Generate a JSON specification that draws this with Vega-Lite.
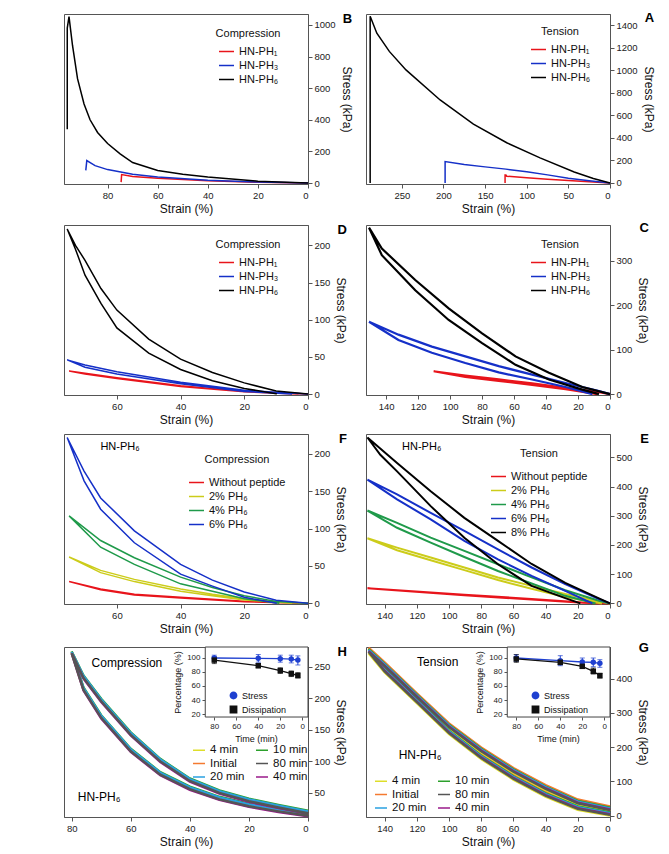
{
  "$schema": "https://vega.github.io/schema/vega-lite/v6.json",
  "padding": {"left": 63, "top": 11, "right": 5, "bottom": 5},
  "config": {
    "font": "Liberation Sans",
    "view": {"stroke": "#555", "strokeWidth": 1},
    "axis": {"grid": false, "domainColor": "#555", "tickColor": "#555", "labelColor": "#222", "labelFontSize": 9.5, "labelOverlap": false, "titleFontSize": 12, "titleFontWeight": "normal", "titleColor": "#111", "tickSize": 4},
    "legend": {"labelFontSize": 11, "titleFontSize": 11, "titleFontWeight": "normal", "titleColor": "#111", "labelColor": "#111", "symbolType": "stroke", "symbolStrokeWidth": 1.5, "symbolSize": 225, "rowPadding": 0, "padding": 0, "titlePadding": 4, "titleAnchor": "middle", "labelOffset": 4, "symbolOpacity": 1},
    "title": {"anchor": "end", "frame": "bounds", "offset": -12, "fontSize": 13, "fontWeight": "bold"}
  },
  "columns": 2,
  "spacing": {"row": 6, "column": 9},
  "resolve": {"scale": {"color": "independent", "shape": "independent", "x": "independent", "y": "independent"}, "legend": {"color": "independent", "shape": "independent"}},
  "datasets": {
    "A": [
      {"series": "HN-PH₁", "i": 0, "strain": 0, "stress": 0},
      {"series": "HN-PH₁", "i": 1, "strain": 25, "stress": 10},
      {"series": "HN-PH₁", "i": 2, "strain": 50, "stress": 22},
      {"series": "HN-PH₁", "i": 3, "strain": 75, "stress": 34},
      {"series": "HN-PH₁", "i": 4, "strain": 100, "stress": 47},
      {"series": "HN-PH₁", "i": 5, "strain": 124, "stress": 60},
      {"series": "HN-PH₁", "i": 6, "strain": 125, "stress": 71},
      {"series": "HN-PH₁", "i": 7, "strain": 126, "stress": 71},
      {"series": "HN-PH₁", "i": 8, "strain": 126, "stress": 0},
      {"series": "HN-PH₃", "i": 0, "strain": 0, "stress": 0},
      {"series": "HN-PH₃", "i": 1, "strain": 25, "stress": 20},
      {"series": "HN-PH₃", "i": 2, "strain": 50, "stress": 42},
      {"series": "HN-PH₃", "i": 3, "strain": 75, "stress": 72},
      {"series": "HN-PH₃", "i": 4, "strain": 100, "stress": 100},
      {"series": "HN-PH₃", "i": 5, "strain": 125, "stress": 123},
      {"series": "HN-PH₃", "i": 6, "strain": 150, "stress": 143},
      {"series": "HN-PH₃", "i": 7, "strain": 175, "stress": 165},
      {"series": "HN-PH₃", "i": 8, "strain": 198, "stress": 190},
      {"series": "HN-PH₃", "i": 9, "strain": 198, "stress": 0},
      {"series": "HN-PH₆", "i": 0, "strain": 0, "stress": 0},
      {"series": "HN-PH₆", "i": 1, "strain": 20, "stress": 40},
      {"series": "HN-PH₆", "i": 2, "strain": 43, "stress": 98},
      {"series": "HN-PH₆", "i": 3, "strain": 84, "stress": 223},
      {"series": "HN-PH₆", "i": 4, "strain": 124, "stress": 357},
      {"series": "HN-PH₆", "i": 5, "strain": 164, "stress": 523},
      {"series": "HN-PH₆", "i": 6, "strain": 204, "stress": 737},
      {"series": "HN-PH₆", "i": 7, "strain": 245, "stress": 1004},
      {"series": "HN-PH₆", "i": 8, "strain": 265, "stress": 1168},
      {"series": "HN-PH₆", "i": 9, "strain": 280, "stress": 1330},
      {"series": "HN-PH₆", "i": 10, "strain": 288, "stress": 1480},
      {"series": "HN-PH₆", "i": 11, "strain": 288, "stress": 0}
    ],
    "B": [
      {"series": "HN-PH₁", "i": 0, "strain": 0, "stress": 0},
      {"series": "HN-PH₁", "i": 1, "strain": 20, "stress": 5},
      {"series": "HN-PH₁", "i": 2, "strain": 40, "stress": 14},
      {"series": "HN-PH₁", "i": 3, "strain": 60, "stress": 30},
      {"series": "HN-PH₁", "i": 4, "strain": 70, "stress": 42},
      {"series": "HN-PH₁", "i": 5, "strain": 74.4, "stress": 54},
      {"series": "HN-PH₁", "i": 6, "strain": 74.6, "stress": 6},
      {"series": "HN-PH₃", "i": 0, "strain": 0, "stress": 0},
      {"series": "HN-PH₃", "i": 1, "strain": 20, "stress": 6},
      {"series": "HN-PH₃", "i": 2, "strain": 40, "stress": 17},
      {"series": "HN-PH₃", "i": 3, "strain": 60, "stress": 38},
      {"series": "HN-PH₃", "i": 4, "strain": 70, "stress": 55},
      {"series": "HN-PH₃", "i": 5, "strain": 80, "stress": 85},
      {"series": "HN-PH₃", "i": 6, "strain": 85, "stress": 110},
      {"series": "HN-PH₃", "i": 7, "strain": 88.3, "stress": 142},
      {"series": "HN-PH₃", "i": 8, "strain": 88.7, "stress": 80},
      {"series": "HN-PH₆", "i": 0, "strain": 0, "stress": 0},
      {"series": "HN-PH₆", "i": 1, "strain": 20, "stress": 12},
      {"series": "HN-PH₆", "i": 2, "strain": 40, "stress": 38},
      {"series": "HN-PH₆", "i": 3, "strain": 50, "stress": 55},
      {"series": "HN-PH₆", "i": 4, "strain": 60, "stress": 80},
      {"series": "HN-PH₆", "i": 5, "strain": 70, "stress": 130},
      {"series": "HN-PH₆", "i": 6, "strain": 75, "stress": 185},
      {"series": "HN-PH₆", "i": 7, "strain": 80, "stress": 250},
      {"series": "HN-PH₆", "i": 8, "strain": 84, "stress": 320},
      {"series": "HN-PH₆", "i": 9, "strain": 87, "stress": 400},
      {"series": "HN-PH₆", "i": 10, "strain": 89.4, "stress": 500},
      {"series": "HN-PH₆", "i": 11, "strain": 92, "stress": 660},
      {"series": "HN-PH₆", "i": 12, "strain": 94, "stress": 870},
      {"series": "HN-PH₆", "i": 13, "strain": 95.4, "stress": 1052},
      {"series": "HN-PH₆", "i": 14, "strain": 96.1, "stress": 980},
      {"series": "HN-PH₆", "i": 15, "strain": 96.1, "stress": 341}
    ],
    "C": [
      {"series": "HN-PH₁", "i": 0, "strain": 0, "stress": 0},
      {"series": "HN-PH₁", "i": 1, "strain": 6.9, "stress": 4.5},
      {"series": "HN-PH₁", "i": 2, "strain": 27.8, "stress": 14},
      {"series": "HN-PH₁", "i": 3, "strain": 48.7, "stress": 24},
      {"series": "HN-PH₁", "i": 4, "strain": 69.6, "stress": 33},
      {"series": "HN-PH₁", "i": 5, "strain": 90.5, "stress": 42},
      {"series": "HN-PH₁", "i": 6, "strain": 110.3, "stress": 51.5},
      {"series": "HN-PH₁", "i": 7, "strain": 90.5, "stress": 39},
      {"series": "HN-PH₁", "i": 8, "strain": 69.6, "stress": 30},
      {"series": "HN-PH₁", "i": 9, "strain": 48.7, "stress": 21},
      {"series": "HN-PH₁", "i": 10, "strain": 27.8, "stress": 11},
      {"series": "HN-PH₁", "i": 11, "strain": 8, "stress": 0},
      {"series": "HN-PH₃", "i": 0, "strain": 0, "stress": 0},
      {"series": "HN-PH₃", "i": 1, "strain": 6.9, "stress": 7},
      {"series": "HN-PH₃", "i": 2, "strain": 27.8, "stress": 25},
      {"series": "HN-PH₃", "i": 3, "strain": 48.7, "stress": 44},
      {"series": "HN-PH₃", "i": 4, "strain": 69.6, "stress": 63},
      {"series": "HN-PH₃", "i": 5, "strain": 90.5, "stress": 85},
      {"series": "HN-PH₃", "i": 6, "strain": 111.4, "stress": 107},
      {"series": "HN-PH₃", "i": 7, "strain": 132.3, "stress": 134},
      {"series": "HN-PH₃", "i": 8, "strain": 150.7, "stress": 163},
      {"series": "HN-PH₃", "i": 9, "strain": 132.3, "stress": 122},
      {"series": "HN-PH₃", "i": 10, "strain": 111.4, "stress": 93},
      {"series": "HN-PH₃", "i": 11, "strain": 90.5, "stress": 70},
      {"series": "HN-PH₃", "i": 12, "strain": 69.6, "stress": 49},
      {"series": "HN-PH₃", "i": 13, "strain": 48.7, "stress": 33},
      {"series": "HN-PH₃", "i": 14, "strain": 27.8, "stress": 16},
      {"series": "HN-PH₃", "i": 15, "strain": 11, "stress": 0},
      {"series": "HN-PH₆", "i": 0, "strain": 0, "stress": 0},
      {"series": "HN-PH₆", "i": 1, "strain": 17.3, "stress": 16},
      {"series": "HN-PH₆", "i": 2, "strain": 38.2, "stress": 48},
      {"series": "HN-PH₆", "i": 3, "strain": 59.1, "stress": 85},
      {"series": "HN-PH₆", "i": 4, "strain": 80, "stress": 137},
      {"series": "HN-PH₆", "i": 5, "strain": 100.9, "stress": 193},
      {"series": "HN-PH₆", "i": 6, "strain": 121.8, "stress": 257},
      {"series": "HN-PH₆", "i": 7, "strain": 142.7, "stress": 328},
      {"series": "HN-PH₆", "i": 8, "strain": 150.7, "stress": 375},
      {"series": "HN-PH₆", "i": 9, "strain": 142.7, "stress": 313},
      {"series": "HN-PH₆", "i": 10, "strain": 121.8, "stress": 234},
      {"series": "HN-PH₆", "i": 11, "strain": 100.9, "stress": 167},
      {"series": "HN-PH₆", "i": 12, "strain": 80, "stress": 115},
      {"series": "HN-PH₆", "i": 13, "strain": 59.1, "stress": 66},
      {"series": "HN-PH₆", "i": 14, "strain": 38.2, "stress": 33},
      {"series": "HN-PH₆", "i": 15, "strain": 17.3, "stress": 10},
      {"series": "HN-PH₆", "i": 16, "strain": 6.9, "stress": 0}
    ],
    "D": [
      {"series": "HN-PH₁", "i": 0, "strain": 0, "stress": 0},
      {"series": "HN-PH₁", "i": 1, "strain": 20, "stress": 3.5},
      {"series": "HN-PH₁", "i": 2, "strain": 40, "stress": 11},
      {"series": "HN-PH₁", "i": 3, "strain": 60, "stress": 22},
      {"series": "HN-PH₁", "i": 4, "strain": 70, "stress": 28},
      {"series": "HN-PH₁", "i": 5, "strain": 75, "stress": 31},
      {"series": "HN-PH₁", "i": 6, "strain": 70, "stress": 27},
      {"series": "HN-PH₁", "i": 7, "strain": 60, "stress": 21},
      {"series": "HN-PH₁", "i": 8, "strain": 40, "stress": 10},
      {"series": "HN-PH₁", "i": 9, "strain": 20, "stress": 3},
      {"series": "HN-PH₁", "i": 10, "strain": 3, "stress": 0},
      {"series": "HN-PH₃", "i": 0, "strain": 0, "stress": 0},
      {"series": "HN-PH₃", "i": 1, "strain": 20, "stress": 5},
      {"series": "HN-PH₃", "i": 2, "strain": 40, "stress": 16},
      {"series": "HN-PH₃", "i": 3, "strain": 60, "stress": 30},
      {"series": "HN-PH₃", "i": 4, "strain": 70, "stress": 39},
      {"series": "HN-PH₃", "i": 5, "strain": 75.6, "stress": 46},
      {"series": "HN-PH₃", "i": 6, "strain": 70, "stress": 36},
      {"series": "HN-PH₃", "i": 7, "strain": 60, "stress": 27},
      {"series": "HN-PH₃", "i": 8, "strain": 40, "stress": 14},
      {"series": "HN-PH₃", "i": 9, "strain": 20, "stress": 3.5},
      {"series": "HN-PH₃", "i": 10, "strain": 5, "stress": 0},
      {"series": "HN-PH₆", "i": 0, "strain": 0, "stress": 0},
      {"series": "HN-PH₆", "i": 1, "strain": 10, "stress": 4},
      {"series": "HN-PH₆", "i": 2, "strain": 20, "stress": 15},
      {"series": "HN-PH₆", "i": 3, "strain": 30, "stress": 29},
      {"series": "HN-PH₆", "i": 4, "strain": 40, "stress": 47},
      {"series": "HN-PH₆", "i": 5, "strain": 50, "stress": 74},
      {"series": "HN-PH₆", "i": 6, "strain": 60, "stress": 113},
      {"series": "HN-PH₆", "i": 7, "strain": 65, "stress": 142},
      {"series": "HN-PH₆", "i": 8, "strain": 70, "stress": 180},
      {"series": "HN-PH₆", "i": 9, "strain": 73, "stress": 200},
      {"series": "HN-PH₆", "i": 10, "strain": 75.6, "stress": 222},
      {"series": "HN-PH₆", "i": 11, "strain": 73, "stress": 195},
      {"series": "HN-PH₆", "i": 12, "strain": 70, "stress": 160},
      {"series": "HN-PH₆", "i": 13, "strain": 65, "stress": 122},
      {"series": "HN-PH₆", "i": 14, "strain": 60, "stress": 89},
      {"series": "HN-PH₆", "i": 15, "strain": 50, "stress": 55},
      {"series": "HN-PH₆", "i": 16, "strain": 40, "stress": 33},
      {"series": "HN-PH₆", "i": 17, "strain": 30, "stress": 18},
      {"series": "HN-PH₆", "i": 18, "strain": 20, "stress": 7.5},
      {"series": "HN-PH₆", "i": 19, "strain": 10, "stress": 0.5},
      {"series": "HN-PH₆", "i": 20, "strain": 9.8, "stress": 0}
    ],
    "E": [
      {"series": "Without peptide", "i": 0, "strain": 0, "stress": 0},
      {"series": "Without peptide", "i": 1, "strain": 17, "stress": 3},
      {"series": "Without peptide", "i": 2, "strain": 48.7, "stress": 15},
      {"series": "Without peptide", "i": 3, "strain": 90.5, "stress": 30},
      {"series": "Without peptide", "i": 4, "strain": 150.7, "stress": 52},
      {"series": "Without peptide", "i": 5, "strain": 90.5, "stress": 28},
      {"series": "Without peptide", "i": 6, "strain": 48.7, "stress": 13},
      {"series": "Without peptide", "i": 7, "strain": 17, "stress": 2},
      {"series": "Without peptide", "i": 8, "strain": 5, "stress": 0},
      {"series": "2% PH₆", "i": 0, "strain": 0, "stress": 0},
      {"series": "2% PH₆", "i": 1, "strain": 6.9, "stress": 7},
      {"series": "2% PH₆", "i": 2, "strain": 27.8, "stress": 32},
      {"series": "2% PH₆", "i": 3, "strain": 48.7, "stress": 60},
      {"series": "2% PH₆", "i": 4, "strain": 69.6, "stress": 89},
      {"series": "2% PH₆", "i": 5, "strain": 90.5, "stress": 123},
      {"series": "2% PH₆", "i": 6, "strain": 111.4, "stress": 157},
      {"series": "2% PH₆", "i": 7, "strain": 132.3, "stress": 191},
      {"series": "2% PH₆", "i": 8, "strain": 150.7, "stress": 223},
      {"series": "2% PH₆", "i": 9, "strain": 132.3, "stress": 182},
      {"series": "2% PH₆", "i": 10, "strain": 111.4, "stress": 148},
      {"series": "2% PH₆", "i": 11, "strain": 90.5, "stress": 114},
      {"series": "2% PH₆", "i": 12, "strain": 69.6, "stress": 80},
      {"series": "2% PH₆", "i": 13, "strain": 48.7, "stress": 50},
      {"series": "2% PH₆", "i": 14, "strain": 27.8, "stress": 22},
      {"series": "2% PH₆", "i": 15, "strain": 5, "stress": 0},
      {"series": "4% PH₆", "i": 0, "strain": 0, "stress": 0},
      {"series": "4% PH₆", "i": 1, "strain": 6.9, "stress": 9},
      {"series": "4% PH₆", "i": 2, "strain": 27.8, "stress": 45},
      {"series": "4% PH₆", "i": 3, "strain": 48.7, "stress": 89},
      {"series": "4% PH₆", "i": 4, "strain": 69.6, "stress": 134},
      {"series": "4% PH₆", "i": 5, "strain": 90.5, "stress": 180},
      {"series": "4% PH₆", "i": 6, "strain": 111.4, "stress": 225},
      {"series": "4% PH₆", "i": 7, "strain": 132.3, "stress": 276},
      {"series": "4% PH₆", "i": 8, "strain": 150.7, "stress": 318},
      {"series": "4% PH₆", "i": 9, "strain": 132.3, "stress": 259},
      {"series": "4% PH₆", "i": 10, "strain": 111.4, "stress": 208},
      {"series": "4% PH₆", "i": 11, "strain": 90.5, "stress": 159},
      {"series": "4% PH₆", "i": 12, "strain": 69.6, "stress": 111},
      {"series": "4% PH₆", "i": 13, "strain": 48.7, "stress": 68},
      {"series": "4% PH₆", "i": 14, "strain": 27.8, "stress": 26},
      {"series": "4% PH₆", "i": 15, "strain": 9, "stress": 0},
      {"series": "6% PH₆", "i": 0, "strain": 0, "stress": 0},
      {"series": "6% PH₆", "i": 1, "strain": 6.9, "stress": 15},
      {"series": "6% PH₆", "i": 2, "strain": 27.8, "stress": 66},
      {"series": "6% PH₆", "i": 3, "strain": 48.7, "stress": 123},
      {"series": "6% PH₆", "i": 4, "strain": 69.6, "stress": 185},
      {"series": "6% PH₆", "i": 5, "strain": 90.5, "stress": 248},
      {"series": "6% PH₆", "i": 6, "strain": 111.4, "stress": 310},
      {"series": "6% PH₆", "i": 7, "strain": 132.3, "stress": 373},
      {"series": "6% PH₆", "i": 8, "strain": 150.7, "stress": 424},
      {"series": "6% PH₆", "i": 9, "strain": 132.3, "stress": 356},
      {"series": "6% PH₆", "i": 10, "strain": 111.4, "stress": 288},
      {"series": "6% PH₆", "i": 11, "strain": 90.5, "stress": 214},
      {"series": "6% PH₆", "i": 12, "strain": 69.6, "stress": 151},
      {"series": "6% PH₆", "i": 13, "strain": 48.7, "stress": 94},
      {"series": "6% PH₆", "i": 14, "strain": 27.8, "stress": 43},
      {"series": "6% PH₆", "i": 15, "strain": 11, "stress": 0},
      {"series": "8% PH₆", "i": 0, "strain": 0, "stress": 0},
      {"series": "8% PH₆", "i": 1, "strain": 6.9, "stress": 17},
      {"series": "8% PH₆", "i": 2, "strain": 27.8, "stress": 70},
      {"series": "8% PH₆", "i": 3, "strain": 48.7, "stress": 135},
      {"series": "8% PH₆", "i": 4, "strain": 69.6, "stress": 214},
      {"series": "8% PH₆", "i": 5, "strain": 90.5, "stress": 293},
      {"series": "8% PH₆", "i": 6, "strain": 111.4, "stress": 384},
      {"series": "8% PH₆", "i": 7, "strain": 132.3, "stress": 481},
      {"series": "8% PH₆", "i": 8, "strain": 150.7, "stress": 568},
      {"series": "8% PH₆", "i": 9, "strain": 142.7, "stress": 509},
      {"series": "8% PH₆", "i": 10, "strain": 132.3, "stress": 452},
      {"series": "8% PH₆", "i": 11, "strain": 111.4, "stress": 333},
      {"series": "8% PH₆", "i": 12, "strain": 90.5, "stress": 225},
      {"series": "8% PH₆", "i": 13, "strain": 69.6, "stress": 134},
      {"series": "8% PH₆", "i": 14, "strain": 48.7, "stress": 60},
      {"series": "8% PH₆", "i": 15, "strain": 27.8, "stress": 18},
      {"series": "8% PH₆", "i": 16, "strain": 18.4, "stress": 0}
    ],
    "F": [
      {"series": "Without peptide", "i": 0, "strain": 0, "stress": 0},
      {"series": "Without peptide", "i": 1, "strain": 20, "stress": 2.7},
      {"series": "Without peptide", "i": 2, "strain": 40, "stress": 8},
      {"series": "Without peptide", "i": 3, "strain": 54.5, "stress": 12},
      {"series": "Without peptide", "i": 4, "strain": 65.1, "stress": 19},
      {"series": "Without peptide", "i": 5, "strain": 75, "stress": 29},
      {"series": "Without peptide", "i": 6, "strain": 65.1, "stress": 18},
      {"series": "Without peptide", "i": 7, "strain": 54.5, "stress": 11},
      {"series": "Without peptide", "i": 8, "strain": 40, "stress": 7},
      {"series": "Without peptide", "i": 9, "strain": 20, "stress": 2},
      {"series": "Without peptide", "i": 10, "strain": 3, "stress": 0},
      {"series": "2% PH₆", "i": 0, "strain": 0, "stress": 0},
      {"series": "2% PH₆", "i": 1, "strain": 10, "stress": 2},
      {"series": "2% PH₆", "i": 2, "strain": 20, "stress": 6},
      {"series": "2% PH₆", "i": 3, "strain": 30, "stress": 12},
      {"series": "2% PH₆", "i": 4, "strain": 40, "stress": 19},
      {"series": "2% PH₆", "i": 5, "strain": 54.5, "stress": 32},
      {"series": "2% PH₆", "i": 6, "strain": 65.1, "stress": 44},
      {"series": "2% PH₆", "i": 7, "strain": 75, "stress": 62},
      {"series": "2% PH₆", "i": 8, "strain": 65.1, "stress": 41},
      {"series": "2% PH₆", "i": 9, "strain": 54.5, "stress": 29},
      {"series": "2% PH₆", "i": 10, "strain": 40, "stress": 16},
      {"series": "2% PH₆", "i": 11, "strain": 30, "stress": 10},
      {"series": "2% PH₆", "i": 12, "strain": 20, "stress": 4.5},
      {"series": "2% PH₆", "i": 13, "strain": 5, "stress": 0},
      {"series": "4% PH₆", "i": 0, "strain": 0, "stress": 0},
      {"series": "4% PH₆", "i": 1, "strain": 10, "stress": 2.5},
      {"series": "4% PH₆", "i": 2, "strain": 20, "stress": 10},
      {"series": "4% PH₆", "i": 3, "strain": 30, "stress": 21},
      {"series": "4% PH₆", "i": 4, "strain": 40, "stress": 35},
      {"series": "4% PH₆", "i": 5, "strain": 54.5, "stress": 61},
      {"series": "4% PH₆", "i": 6, "strain": 65.1, "stress": 84},
      {"series": "4% PH₆", "i": 7, "strain": 75, "stress": 117},
      {"series": "4% PH₆", "i": 8, "strain": 65.1, "stress": 75},
      {"series": "4% PH₆", "i": 9, "strain": 54.5, "stress": 52},
      {"series": "4% PH₆", "i": 10, "strain": 40, "stress": 26},
      {"series": "4% PH₆", "i": 11, "strain": 30, "stress": 16},
      {"series": "4% PH₆", "i": 12, "strain": 20, "stress": 6},
      {"series": "4% PH₆", "i": 13, "strain": 9, "stress": 0},
      {"series": "6% PH₆", "i": 0, "strain": 0, "stress": 0},
      {"series": "6% PH₆", "i": 1, "strain": 10, "stress": 4},
      {"series": "6% PH₆", "i": 2, "strain": 20, "stress": 15},
      {"series": "6% PH₆", "i": 3, "strain": 30, "stress": 31},
      {"series": "6% PH₆", "i": 4, "strain": 40, "stress": 52},
      {"series": "6% PH₆", "i": 5, "strain": 54.5, "stress": 97},
      {"series": "6% PH₆", "i": 6, "strain": 65.1, "stress": 141},
      {"series": "6% PH₆", "i": 7, "strain": 70.3, "stress": 177},
      {"series": "6% PH₆", "i": 8, "strain": 75.6, "stress": 222},
      {"series": "6% PH₆", "i": 9, "strain": 70.3, "stress": 164},
      {"series": "6% PH₆", "i": 10, "strain": 65.1, "stress": 126},
      {"series": "6% PH₆", "i": 11, "strain": 54.5, "stress": 81},
      {"series": "6% PH₆", "i": 12, "strain": 40, "stress": 39},
      {"series": "6% PH₆", "i": 13, "strain": 30, "stress": 23},
      {"series": "6% PH₆", "i": 14, "strain": 20, "stress": 8},
      {"series": "6% PH₆", "i": 15, "strain": 9.8, "stress": 0}
    ],
    "G": [
      {"series": "Initial", "i": 0, "strain": 0, "stress": 27}, {"series": "Initial", "i": 1, "strain": 20, "stress": 47}, {"series": "Initial", "i": 2, "strain": 40, "stress": 89}, {"series": "Initial", "i": 3, "strain": 60, "stress": 139}, {"series": "Initial", "i": 4, "strain": 80, "stress": 199}, {"series": "Initial", "i": 5, "strain": 100, "stress": 269}, {"series": "Initial", "i": 6, "strain": 120, "stress": 357}, {"series": "Initial", "i": 7, "strain": 140, "stress": 447}, {"series": "Initial", "i": 8, "strain": 150, "stress": 490},
      {"series": "Initial", "i": 9, "strain": 140, "stress": 432}, {"series": "Initial", "i": 10, "strain": 120, "stress": 342}, {"series": "Initial", "i": 11, "strain": 100, "stress": 252}, {"series": "Initial", "i": 12, "strain": 80, "stress": 179}, {"series": "Initial", "i": 13, "strain": 60, "stress": 119}, {"series": "Initial", "i": 14, "strain": 40, "stress": 69}, {"series": "Initial", "i": 15, "strain": 20, "stress": 31}, {"series": "Initial", "i": 16, "strain": 0, "stress": 13},
      {"series": "4 min", "i": 0, "strain": 0, "stress": 13}, {"series": "4 min", "i": 1, "strain": 20, "stress": 33}, {"series": "4 min", "i": 2, "strain": 40, "stress": 75}, {"series": "4 min", "i": 3, "strain": 60, "stress": 125}, {"series": "4 min", "i": 4, "strain": 80, "stress": 185}, {"series": "4 min", "i": 5, "strain": 100, "stress": 255}, {"series": "4 min", "i": 6, "strain": 120, "stress": 343}, {"series": "4 min", "i": 7, "strain": 140, "stress": 433}, {"series": "4 min", "i": 8, "strain": 150, "stress": 474},
      {"series": "4 min", "i": 9, "strain": 140, "stress": 418}, {"series": "4 min", "i": 10, "strain": 120, "stress": 328}, {"series": "4 min", "i": 11, "strain": 100, "stress": 238}, {"series": "4 min", "i": 12, "strain": 80, "stress": 165}, {"series": "4 min", "i": 13, "strain": 60, "stress": 105}, {"series": "4 min", "i": 14, "strain": 40, "stress": 55}, {"series": "4 min", "i": 15, "strain": 20, "stress": 17}, {"series": "4 min", "i": 16, "strain": 0, "stress": 0},
      {"series": "10 min", "i": 0, "strain": 0, "stress": 23}, {"series": "10 min", "i": 1, "strain": 20, "stress": 43}, {"series": "10 min", "i": 2, "strain": 40, "stress": 85}, {"series": "10 min", "i": 3, "strain": 60, "stress": 135}, {"series": "10 min", "i": 4, "strain": 80, "stress": 195}, {"series": "10 min", "i": 5, "strain": 100, "stress": 265}, {"series": "10 min", "i": 6, "strain": 120, "stress": 353}, {"series": "10 min", "i": 7, "strain": 140, "stress": 443}, {"series": "10 min", "i": 8, "strain": 150, "stress": 486},
      {"series": "10 min", "i": 9, "strain": 140, "stress": 428}, {"series": "10 min", "i": 10, "strain": 120, "stress": 338}, {"series": "10 min", "i": 11, "strain": 100, "stress": 248}, {"series": "10 min", "i": 12, "strain": 80, "stress": 175}, {"series": "10 min", "i": 13, "strain": 60, "stress": 115}, {"series": "10 min", "i": 14, "strain": 40, "stress": 65}, {"series": "10 min", "i": 15, "strain": 20, "stress": 27}, {"series": "10 min", "i": 16, "strain": 0, "stress": 9},
      {"series": "20 min", "i": 0, "strain": 0, "stress": 21}, {"series": "20 min", "i": 1, "strain": 20, "stress": 41}, {"series": "20 min", "i": 2, "strain": 40, "stress": 83}, {"series": "20 min", "i": 3, "strain": 60, "stress": 133}, {"series": "20 min", "i": 4, "strain": 80, "stress": 193}, {"series": "20 min", "i": 5, "strain": 100, "stress": 263}, {"series": "20 min", "i": 6, "strain": 120, "stress": 351}, {"series": "20 min", "i": 7, "strain": 140, "stress": 441}, {"series": "20 min", "i": 8, "strain": 150, "stress": 483},
      {"series": "20 min", "i": 9, "strain": 140, "stress": 426}, {"series": "20 min", "i": 10, "strain": 120, "stress": 336}, {"series": "20 min", "i": 11, "strain": 100, "stress": 246}, {"series": "20 min", "i": 12, "strain": 80, "stress": 173}, {"series": "20 min", "i": 13, "strain": 60, "stress": 113}, {"series": "20 min", "i": 14, "strain": 40, "stress": 63}, {"series": "20 min", "i": 15, "strain": 20, "stress": 25}, {"series": "20 min", "i": 16, "strain": 0, "stress": 7},
      {"series": "40 min", "i": 0, "strain": 0, "stress": 18}, {"series": "40 min", "i": 1, "strain": 20, "stress": 38}, {"series": "40 min", "i": 2, "strain": 40, "stress": 80}, {"series": "40 min", "i": 3, "strain": 60, "stress": 130}, {"series": "40 min", "i": 4, "strain": 80, "stress": 190}, {"series": "40 min", "i": 5, "strain": 100, "stress": 260}, {"series": "40 min", "i": 6, "strain": 120, "stress": 348}, {"series": "40 min", "i": 7, "strain": 140, "stress": 438}, {"series": "40 min", "i": 8, "strain": 150, "stress": 480},
      {"series": "40 min", "i": 9, "strain": 140, "stress": 423}, {"series": "40 min", "i": 10, "strain": 120, "stress": 333}, {"series": "40 min", "i": 11, "strain": 100, "stress": 243}, {"series": "40 min", "i": 12, "strain": 80, "stress": 170}, {"series": "40 min", "i": 13, "strain": 60, "stress": 110}, {"series": "40 min", "i": 14, "strain": 40, "stress": 60}, {"series": "40 min", "i": 15, "strain": 20, "stress": 22}, {"series": "40 min", "i": 16, "strain": 0, "stress": 4},
      {"series": "80 min", "i": 0, "strain": 0, "stress": 16}, {"series": "80 min", "i": 1, "strain": 20, "stress": 36}, {"series": "80 min", "i": 2, "strain": 40, "stress": 78}, {"series": "80 min", "i": 3, "strain": 60, "stress": 128}, {"series": "80 min", "i": 4, "strain": 80, "stress": 188}, {"series": "80 min", "i": 5, "strain": 100, "stress": 258}, {"series": "80 min", "i": 6, "strain": 120, "stress": 346}, {"series": "80 min", "i": 7, "strain": 140, "stress": 436}, {"series": "80 min", "i": 8, "strain": 150, "stress": 478},
      {"series": "80 min", "i": 9, "strain": 140, "stress": 421}, {"series": "80 min", "i": 10, "strain": 120, "stress": 331}, {"series": "80 min", "i": 11, "strain": 100, "stress": 241}, {"series": "80 min", "i": 12, "strain": 80, "stress": 168}, {"series": "80 min", "i": 13, "strain": 60, "stress": 108}, {"series": "80 min", "i": 14, "strain": 40, "stress": 58}, {"series": "80 min", "i": 15, "strain": 20, "stress": 20}, {"series": "80 min", "i": 16, "strain": 0, "stress": 2}
    ],
    "H": [
      {"series": "Initial", "i": 0, "strain": 0, "stress": 20}, {"series": "Initial", "i": 1, "strain": 10, "stress": 29}, {"series": "Initial", "i": 2, "strain": 20, "stress": 39}, {"series": "Initial", "i": 3, "strain": 30, "stress": 52}, {"series": "Initial", "i": 4, "strain": 40, "stress": 71}, {"series": "Initial", "i": 5, "strain": 50, "stress": 102}, {"series": "Initial", "i": 6, "strain": 60, "stress": 144}, {"series": "Initial", "i": 7, "strain": 70, "stress": 197}, {"series": "Initial", "i": 8, "strain": 76, "stress": 234}, {"series": "Initial", "i": 9, "strain": 80, "stress": 273},
      {"series": "Initial", "i": 10, "strain": 76, "stress": 215}, {"series": "Initial", "i": 11, "strain": 70, "stress": 171}, {"series": "Initial", "i": 12, "strain": 60, "stress": 118}, {"series": "Initial", "i": 13, "strain": 50, "stress": 81}, {"series": "Initial", "i": 14, "strain": 40, "stress": 58}, {"series": "Initial", "i": 15, "strain": 30, "stress": 42}, {"series": "Initial", "i": 16, "strain": 20, "stress": 31}, {"series": "Initial", "i": 17, "strain": 10, "stress": 23}, {"series": "Initial", "i": 18, "strain": 0, "stress": 16},
      {"series": "4 min", "i": 0, "strain": 0, "stress": 19}, {"series": "4 min", "i": 1, "strain": 10, "stress": 28}, {"series": "4 min", "i": 2, "strain": 20, "stress": 38}, {"series": "4 min", "i": 3, "strain": 30, "stress": 51}, {"series": "4 min", "i": 4, "strain": 40, "stress": 70}, {"series": "4 min", "i": 5, "strain": 50, "stress": 101}, {"series": "4 min", "i": 6, "strain": 60, "stress": 143}, {"series": "4 min", "i": 7, "strain": 70, "stress": 196}, {"series": "4 min", "i": 8, "strain": 76, "stress": 233}, {"series": "4 min", "i": 9, "strain": 80, "stress": 272},
      {"series": "4 min", "i": 10, "strain": 76, "stress": 214}, {"series": "4 min", "i": 11, "strain": 70, "stress": 170}, {"series": "4 min", "i": 12, "strain": 60, "stress": 117}, {"series": "4 min", "i": 13, "strain": 50, "stress": 80}, {"series": "4 min", "i": 14, "strain": 40, "stress": 57}, {"series": "4 min", "i": 15, "strain": 30, "stress": 41}, {"series": "4 min", "i": 16, "strain": 20, "stress": 30}, {"series": "4 min", "i": 17, "strain": 10, "stress": 22}, {"series": "4 min", "i": 18, "strain": 0, "stress": 15},
      {"series": "10 min", "i": 0, "strain": 0, "stress": 22}, {"series": "10 min", "i": 1, "strain": 10, "stress": 31}, {"series": "10 min", "i": 2, "strain": 20, "stress": 41}, {"series": "10 min", "i": 3, "strain": 30, "stress": 54}, {"series": "10 min", "i": 4, "strain": 40, "stress": 73}, {"series": "10 min", "i": 5, "strain": 50, "stress": 104}, {"series": "10 min", "i": 6, "strain": 60, "stress": 146}, {"series": "10 min", "i": 7, "strain": 70, "stress": 199}, {"series": "10 min", "i": 8, "strain": 76, "stress": 236}, {"series": "10 min", "i": 9, "strain": 80, "stress": 274},
      {"series": "10 min", "i": 10, "strain": 76, "stress": 217}, {"series": "10 min", "i": 11, "strain": 70, "stress": 173}, {"series": "10 min", "i": 12, "strain": 60, "stress": 120}, {"series": "10 min", "i": 13, "strain": 50, "stress": 83}, {"series": "10 min", "i": 14, "strain": 40, "stress": 60}, {"series": "10 min", "i": 15, "strain": 30, "stress": 44}, {"series": "10 min", "i": 16, "strain": 20, "stress": 33}, {"series": "10 min", "i": 17, "strain": 10, "stress": 25}, {"series": "10 min", "i": 18, "strain": 0, "stress": 18},
      {"series": "20 min", "i": 0, "strain": 0, "stress": 21}, {"series": "20 min", "i": 1, "strain": 10, "stress": 30}, {"series": "20 min", "i": 2, "strain": 20, "stress": 40}, {"series": "20 min", "i": 3, "strain": 30, "stress": 53}, {"series": "20 min", "i": 4, "strain": 40, "stress": 72}, {"series": "20 min", "i": 5, "strain": 50, "stress": 103}, {"series": "20 min", "i": 6, "strain": 60, "stress": 145}, {"series": "20 min", "i": 7, "strain": 70, "stress": 198}, {"series": "20 min", "i": 8, "strain": 76, "stress": 235}, {"series": "20 min", "i": 9, "strain": 80, "stress": 273},
      {"series": "20 min", "i": 10, "strain": 76, "stress": 216}, {"series": "20 min", "i": 11, "strain": 70, "stress": 172}, {"series": "20 min", "i": 12, "strain": 60, "stress": 119}, {"series": "20 min", "i": 13, "strain": 50, "stress": 82}, {"series": "20 min", "i": 14, "strain": 40, "stress": 59}, {"series": "20 min", "i": 15, "strain": 30, "stress": 43}, {"series": "20 min", "i": 16, "strain": 20, "stress": 32}, {"series": "20 min", "i": 17, "strain": 10, "stress": 24}, {"series": "20 min", "i": 18, "strain": 0, "stress": 17},
      {"series": "40 min", "i": 0, "strain": 0, "stress": 17}, {"series": "40 min", "i": 1, "strain": 10, "stress": 26}, {"series": "40 min", "i": 2, "strain": 20, "stress": 36}, {"series": "40 min", "i": 3, "strain": 30, "stress": 49}, {"series": "40 min", "i": 4, "strain": 40, "stress": 68}, {"series": "40 min", "i": 5, "strain": 50, "stress": 99}, {"series": "40 min", "i": 6, "strain": 60, "stress": 141}, {"series": "40 min", "i": 7, "strain": 70, "stress": 194}, {"series": "40 min", "i": 8, "strain": 76, "stress": 231}, {"series": "40 min", "i": 9, "strain": 80, "stress": 271},
      {"series": "40 min", "i": 10, "strain": 76, "stress": 212}, {"series": "40 min", "i": 11, "strain": 70, "stress": 168}, {"series": "40 min", "i": 12, "strain": 60, "stress": 115}, {"series": "40 min", "i": 13, "strain": 50, "stress": 78}, {"series": "40 min", "i": 14, "strain": 40, "stress": 55}, {"series": "40 min", "i": 15, "strain": 30, "stress": 39}, {"series": "40 min", "i": 16, "strain": 20, "stress": 28}, {"series": "40 min", "i": 17, "strain": 10, "stress": 20}, {"series": "40 min", "i": 18, "strain": 0, "stress": 13},
      {"series": "80 min", "i": 0, "strain": 0, "stress": 18}, {"series": "80 min", "i": 1, "strain": 10, "stress": 27}, {"series": "80 min", "i": 2, "strain": 20, "stress": 37}, {"series": "80 min", "i": 3, "strain": 30, "stress": 50}, {"series": "80 min", "i": 4, "strain": 40, "stress": 69}, {"series": "80 min", "i": 5, "strain": 50, "stress": 100}, {"series": "80 min", "i": 6, "strain": 60, "stress": 142}, {"series": "80 min", "i": 7, "strain": 70, "stress": 195}, {"series": "80 min", "i": 8, "strain": 76, "stress": 232}, {"series": "80 min", "i": 9, "strain": 80, "stress": 271},
      {"series": "80 min", "i": 10, "strain": 76, "stress": 213}, {"series": "80 min", "i": 11, "strain": 70, "stress": 169}, {"series": "80 min", "i": 12, "strain": 60, "stress": 116}, {"series": "80 min", "i": 13, "strain": 50, "stress": 79}, {"series": "80 min", "i": 14, "strain": 40, "stress": 56}, {"series": "80 min", "i": 15, "strain": 30, "stress": 40}, {"series": "80 min", "i": 16, "strain": 20, "stress": 29}, {"series": "80 min", "i": 17, "strain": 10, "stress": 21}, {"series": "80 min", "i": 18, "strain": 0, "stress": 14}
    ],
    "Gi": [
      {"measure": "Stress", "time": 4, "pct": 92.4, "lo": 86.7, "hi": 97.6},
      {"measure": "Stress", "time": 10, "pct": 93.8, "lo": 87.6, "hi": 100},
      {"measure": "Stress", "time": 20, "pct": 94.3, "lo": 89, "hi": 100},
      {"measure": "Stress", "time": 40, "pct": 96.2, "lo": 89, "hi": 103.3},
      {"measure": "Stress", "time": 80, "pct": 100, "lo": 95.2, "hi": 104.8},
      {"measure": "Dissipation", "time": 4, "pct": 74.8, "lo": 71.4, "hi": 78.1},
      {"measure": "Dissipation", "time": 10, "pct": 81, "lo": 77.1, "hi": 85.7},
      {"measure": "Dissipation", "time": 20, "pct": 88.1, "lo": 85.2, "hi": 91.4},
      {"measure": "Dissipation", "time": 40, "pct": 93.8, "lo": 90.5, "hi": 97.1},
      {"measure": "Dissipation", "time": 80, "pct": 98.6, "lo": 93.8, "hi": 104.8}
    ],
    "Hi": [
      {"measure": "Stress", "time": 4, "pct": 97, "lo": 90, "hi": 103},
      {"measure": "Stress", "time": 10, "pct": 98.5, "lo": 93, "hi": 104},
      {"measure": "Stress", "time": 20, "pct": 99, "lo": 94, "hi": 104},
      {"measure": "Stress", "time": 40, "pct": 99.5, "lo": 94, "hi": 105},
      {"measure": "Stress", "time": 80, "pct": 100, "lo": 96, "hi": 104},
      {"measure": "Dissipation", "time": 4, "pct": 75, "lo": 71.5, "hi": 79},
      {"measure": "Dissipation", "time": 10, "pct": 77.5, "lo": 73.5, "hi": 81.5},
      {"measure": "Dissipation", "time": 20, "pct": 82, "lo": 78, "hi": 86},
      {"measure": "Dissipation", "time": 40, "pct": 89, "lo": 86, "hi": 92},
      {"measure": "Dissipation", "time": 80, "pct": 97, "lo": 92, "hi": 102}
    ]
  },
  "concat": [
    {
      "width": 244, "height": 170, "title": {"text": "B"},
      "data": {"name": "B"},
      "mark": {"type": "line", "strokeWidth": 1.5},
      "encoding": {
        "x": {"field": "strain", "type": "quantitative", "scale": {"domain": [0, 97.4], "reverse": true, "nice": false, "zero": false}, "axis": {"values": [0, 20, 40, 60, 80], "title": "Strain (%)"}},
        "y": {"field": "stress", "type": "quantitative", "scale": {"domain": [-6, 1069], "nice": false, "zero": false}, "axis": {"orient": "right", "values": [0, 200, 400, 600, 800, 1000], "format": "d", "title": "Stress (kPa)"}},
        "color": {"field": "series", "type": "nominal", "scale": {"domain": ["HN-PH₁", "HN-PH₃", "HN-PH₆"], "range": ["#e8141b", "#1530c8", "#000000"]}, "legend": {"title": "Compression", "orient": "none", "legendX": 152, "legendY": 14}},
        "order": {"field": "i"}
      }
    },
    {
      "width": 244, "height": 170, "title": {"text": "A"},
      "data": {"name": "A"},
      "mark": {"type": "line", "strokeWidth": 1.5},
      "encoding": {
        "x": {"field": "strain", "type": "quantitative", "scale": {"domain": [0, 293], "reverse": true, "nice": false, "zero": false}, "axis": {"values": [0, 50, 100, 150, 200, 250], "title": "Strain (%)"}},
        "y": {"field": "stress", "type": "quantitative", "scale": {"domain": [-9, 1500], "nice": false, "zero": false}, "axis": {"orient": "right", "values": [0, 200, 400, 600, 800, 1000, 1200, 1400], "format": "d", "title": "Stress (kPa)"}},
        "color": {"field": "series", "type": "nominal", "scale": {"domain": ["HN-PH₁", "HN-PH₃", "HN-PH₆"], "range": ["#e8141b", "#1530c8", "#000000"]}, "legend": {"title": "Tension", "orient": "none", "legendX": 164, "legendY": 12}},
        "order": {"field": "i"}
      }
    },
    {
      "width": 244, "height": 170, "title": {"text": "D"},
      "data": {"name": "D"},
      "mark": {"type": "line", "strokeWidth": 1.5},
      "encoding": {
        "x": {"field": "strain", "type": "quantitative", "scale": {"domain": [0, 76.6], "reverse": true, "nice": false, "zero": false}, "axis": {"values": [0, 20, 40, 60], "title": "Strain (%)"}},
        "y": {"field": "stress", "type": "quantitative", "scale": {"domain": [-1.3, 227.5], "nice": false, "zero": false}, "axis": {"orient": "right", "values": [0, 50, 100, 150, 200], "format": "d", "title": "Stress (kPa)"}},
        "color": {"field": "series", "type": "nominal", "scale": {"domain": ["HN-PH₁", "HN-PH₃", "HN-PH₆"], "range": ["#e8141b", "#1530c8", "#000000"]}, "legend": {"title": "Compression", "orient": "none", "legendX": 152, "legendY": 14}},
        "order": {"field": "i"}
      }
    },
    {
      "width": 244, "height": 170, "title": {"text": "C"},
      "data": {"name": "C"},
      "mark": {"type": "line", "strokeWidth": 2.2},
      "encoding": {
        "x": {"field": "strain", "type": "quantitative", "scale": {"domain": [0, 152.6], "reverse": true, "nice": false, "zero": false}, "axis": {"values": [0, 20, 40, 60, 80, 100, 120, 140], "title": "Strain (%)"}},
        "y": {"field": "stress", "type": "quantitative", "scale": {"domain": [-2, 381], "nice": false, "zero": false}, "axis": {"orient": "right", "values": [0, 100, 200, 300], "format": "d", "title": "Stress (kPa)"}},
        "color": {"field": "series", "type": "nominal", "scale": {"domain": ["HN-PH₁", "HN-PH₃", "HN-PH₆"], "range": ["#e8141b", "#1530c8", "#000000"]}, "legend": {"title": "Tension", "orient": "none", "legendX": 164, "legendY": 14}},
        "order": {"field": "i"}
      }
    },
    {
      "width": 244, "height": 170, "title": {"text": "F"},
      "layer": [
        {
          "data": {"name": "F"},
          "mark": {"type": "line", "strokeWidth": 1.5},
          "encoding": {
            "x": {"field": "strain", "type": "quantitative", "scale": {"domain": [0, 76.6], "reverse": true, "nice": false, "zero": false}, "axis": {"values": [0, 20, 40, 60], "title": "Strain (%)", "labelOverlap": false}},
            "y": {"field": "stress", "type": "quantitative", "scale": {"domain": [-1, 226.7], "nice": false, "zero": false}, "axis": {"orient": "right", "values": [0, 50, 100, 150, 200], "format": "d", "title": "Stress (kPa)", "labelOverlap": false}},
            "color": {"field": "series", "type": "nominal", "scale": {"domain": ["Without peptide", "2% PH₆", "4% PH₆", "6% PH₆"], "range": ["#e8141b", "#cccc1a", "#1f9a4a", "#1530c8"]}, "legend": {"title": "Compression", "orient": "none", "legendX": 124, "legendY": 20, "titlePadding": 9}},
            "order": {"field": "i"}
          }
        },
        {
          "data": {"values": [{"label": "HN-PH₆", "strain": 59, "stress": 209}]},
          "mark": {"type": "text", "fontSize": 11},
          "encoding": {
            "x": {"field": "strain", "type": "quantitative", "axis": {"values": [0, 20, 40, 60], "title": "Strain (%)", "labelOverlap": false}},
            "y": {"field": "stress", "type": "quantitative", "axis": {"orient": "right", "values": [0, 50, 100, 150, 200], "format": "d", "title": "Stress (kPa)", "labelOverlap": false}},
            "text": {"field": "label"}
          }
        }
      ]
    },
    {
      "width": 244, "height": 170, "title": {"text": "E"},
      "layer": [
        {
          "data": {"name": "E"},
          "mark": {"type": "line", "strokeWidth": 2},
          "encoding": {
            "x": {"field": "strain", "type": "quantitative", "scale": {"domain": [0, 151.6], "reverse": true, "nice": false, "zero": false}, "axis": {"values": [0, 20, 40, 60, 80, 100, 120, 140], "title": "Strain (%)", "labelOverlap": false}},
            "y": {"field": "stress", "type": "quantitative", "scale": {"domain": [-2, 580], "nice": false, "zero": false}, "axis": {"orient": "right", "values": [0, 100, 200, 300, 400, 500], "format": "d", "title": "Stress (kPa)", "labelOverlap": false}},
            "color": {"field": "series", "type": "nominal", "scale": {"domain": ["Without peptide", "2% PH₆", "4% PH₆", "6% PH₆", "8% PH₆"], "range": ["#e8141b", "#cccc1a", "#1f9a4a", "#1530c8", "#000000"]}, "legend": {"title": "Tension", "orient": "none", "legendX": 124, "legendY": 14, "titlePadding": 9}},
            "order": {"field": "i"}
          }
        },
        {
          "data": {"values": [{"label": "HN-PH₆", "strain": 117, "stress": 537}]},
          "mark": {"type": "text", "fontSize": 11},
          "encoding": {
            "x": {"field": "strain", "type": "quantitative", "axis": {"values": [0, 20, 40, 60, 80, 100, 120, 140], "title": "Strain (%)", "labelOverlap": false}},
            "y": {"field": "stress", "type": "quantitative", "axis": {"orient": "right", "values": [0, 100, 200, 300, 400, 500], "format": "d", "title": "Stress (kPa)", "labelOverlap": false}},
            "text": {"field": "label"}
          }
        }
      ]
    },
    {
      "width": 244, "height": 170, "title": {"text": "H"},
      "layer": [
        {
          "layer": [
            {
              "data": {"name": "H"},
              "mark": {"type": "line", "strokeWidth": 2.4},
              "encoding": {
                "x": {"field": "strain", "type": "quantitative", "scale": {"domain": [0, 82.6], "reverse": true, "nice": false, "zero": false}, "axis": {"orient": "bottom", "values": [0, 20, 40, 60, 80], "title": "Strain (%)", "labelOverlap": false}},
                "y": {"field": "stress", "type": "quantitative", "scale": {"domain": [12, 281], "nice": false, "zero": false}, "axis": {"orient": "right", "values": [50, 100, 150, 200, 250], "format": "d", "title": "Stress (kPa)", "labelOverlap": false}},
                "color": {"field": "series", "type": "nominal", "scale": {"domain": ["4 min", "Initial", "20 min", "10 min", "80 min", "40 min"], "range": ["#dede2a", "#f47a30", "#2aa0e0", "#2ca02c", "#555555", "#9a1a8a"]}, "legend": {"title": null, "orient": "none", "legendX": 128, "legendY": 96, "columns": 2, "columnPadding": 8, "labelFontSize": 11.5, "symbolSize": 144, "rowPadding": 0.5}},
                "order": {"field": "i"}
              }
            },
            {
              "data": {"values": [{"label": "Compression", "strain": 61.3, "stress": 256}, {"label": "HN-PH₆", "strain": 70.7, "stress": 43.6}]},
              "mark": {"type": "text", "fontSize": 12},
              "encoding": {
                "x": {"field": "strain", "type": "quantitative", "axis": {"orient": "bottom", "values": [0, 20, 40, 60, 80], "title": "Strain (%)", "labelOverlap": false}},
                "y": {"field": "stress", "type": "quantitative", "axis": {"orient": "right", "values": [50, 100, 150, 200, 250], "format": "d", "title": "Stress (kPa)", "labelOverlap": false}},
                "text": {"field": "label"}
              }
            }
          ]
        },
        {
          "layer": [
            {
              "data": {"values": [{"t1": 88.2, "t2": -5.2, "p1": 15.7, "p2": 115.7}]},
              "mark": {"type": "rect", "fill": "white", "stroke": "#444", "strokeWidth": 1},
              "encoding": {
                "x": {"field": "t1", "type": "quantitative", "title": "Time (min)", "scale": {"domain": [-5.2, 216.6], "reverse": true, "nice": false, "zero": false}, "axis": {"orient": "bottom", "offset": -100, "values": [0, 20, 40, 60, 80], "domain": false, "title": "Time (min)", "titleX": 192, "labelFontSize": 8, "titleFontSize": 9, "tickSize": 3}},
                "x2": {"field": "t2"},
                "y": {"field": "p1", "type": "quantitative", "title": "Percentage (%)", "scale": {"domain": [-127.1, 115.7], "nice": false, "zero": false}, "axis": {"orient": "left", "offset": -141, "values": [20, 40, 60, 80, 100], "domain": false, "title": "Percentage (%)", "titleY": 35, "labelFontSize": 8, "titleFontSize": 9, "tickSize": 3}},
                "y2": {"field": "p2"}
              }
            },
            {
              "data": {"name": "Hi"},
              "mark": {"type": "errorbar", "ticks": true},
              "encoding": {
                "x": {"field": "time", "type": "quantitative", "title": "Time (min)"},
                "y": {"field": "lo", "type": "quantitative", "title": "Percentage (%)"},
                "y2": {"field": "hi"},
                "color": {"field": "measure", "type": "nominal", "scale": {"domain": ["Stress", "Dissipation"], "range": ["#1f40d0", "#111111"]}}
              }
            },
            {
              "data": {"name": "Hi"},
              "mark": {"type": "line", "strokeWidth": 1.3},
              "encoding": {
                "x": {"field": "time", "type": "quantitative", "title": "Time (min)"},
                "y": {"field": "pct", "type": "quantitative", "title": "Percentage (%)"},
                "color": {"field": "measure", "type": "nominal"}
              }
            },
            {
              "data": {"name": "Hi"},
              "mark": {"type": "point", "filled": true, "size": 30, "opacity": 1},
              "encoding": {
                "x": {"field": "time", "type": "quantitative", "title": "Time (min)"},
                "y": {"field": "pct", "type": "quantitative", "title": "Percentage (%)"},
                "color": {"field": "measure", "type": "nominal", "legend": {"title": null, "orient": "none", "legendX": 165, "legendY": 44, "labelFontSize": 9, "symbolSize": 40, "rowPadding": 1, "symbolOpacity": 1}},
                "shape": {"field": "measure", "type": "nominal", "scale": {"domain": ["Stress", "Dissipation"], "range": ["circle", "square"]}, "legend": {"title": null, "orient": "none", "legendX": 165, "legendY": 44, "labelFontSize": 9, "symbolSize": 40, "rowPadding": 1, "symbolOpacity": 1}}
              }
            }
          ]
        }
      ],
      "resolve": {"scale": {"x": "independent", "y": "independent", "color": "independent", "shape": "independent"}, "axis": {"x": "independent", "y": "independent"}, "legend": {"color": "independent", "shape": "independent"}}
    },
    {
      "width": 244, "height": 170, "title": {"text": "G"},
      "layer": [
        {
          "layer": [
            {
              "data": {"name": "G"},
              "mark": {"type": "line", "strokeWidth": 2.4},
              "encoding": {
                "x": {"field": "strain", "type": "quantitative", "scale": {"domain": [0, 151.6], "reverse": true, "nice": false, "zero": false}, "axis": {"orient": "bottom", "values": [0, 20, 40, 60, 80, 100, 120, 140], "title": "Strain (%)", "labelOverlap": false}},
                "y": {"field": "stress", "type": "quantitative", "scale": {"domain": [-4, 492], "nice": false, "zero": false}, "axis": {"orient": "right", "values": [0, 100, 200, 300, 400], "format": "d", "title": "Stress (kPa)", "labelOverlap": false}},
                "color": {"field": "series", "type": "nominal", "scale": {"domain": ["4 min", "Initial", "20 min", "10 min", "80 min", "40 min"], "range": ["#dede2a", "#f47a30", "#2aa0e0", "#2ca02c", "#555555", "#9a1a8a"]}, "legend": {"title": null, "orient": "none", "legendX": 8, "legendY": 127, "columns": 2, "columnPadding": 8, "labelFontSize": 11.5, "symbolSize": 144, "rowPadding": 0.5}},
                "order": {"field": "i"}
              }
            },
            {
              "data": {"values": [{"label": "Tension", "strain": 107, "stress": 448}, {"label": "HN-PH₆", "strain": 118, "stress": 177}]},
              "mark": {"type": "text", "fontSize": 12},
              "encoding": {
                "x": {"field": "strain", "type": "quantitative", "axis": {"orient": "bottom", "values": [0, 20, 40, 60, 80, 100, 120, 140], "title": "Strain (%)", "labelOverlap": false}},
                "y": {"field": "stress", "type": "quantitative", "axis": {"orient": "right", "values": [0, 100, 200, 300, 400], "format": "d", "title": "Stress (kPa)", "labelOverlap": false}},
                "text": {"field": "label"}
              }
            }
          ]
        },
        {
          "layer": [
            {
              "data": {"values": [{"t1": 88.2, "t2": -5.2, "p1": 15.7, "p2": 115.7}]},
              "mark": {"type": "rect", "fill": "white", "stroke": "#444", "strokeWidth": 1},
              "encoding": {
                "x": {"field": "t1", "type": "quantitative", "title": "Time (min)", "scale": {"domain": [-5.2, 216.6], "reverse": true, "nice": false, "zero": false}, "axis": {"orient": "bottom", "offset": -100, "values": [0, 20, 40, 60, 80], "domain": false, "title": "Time (min)", "titleX": 192, "labelFontSize": 8, "titleFontSize": 9, "tickSize": 3}},
                "x2": {"field": "t2"},
                "y": {"field": "p1", "type": "quantitative", "title": "Percentage (%)", "scale": {"domain": [-127.1, 115.7], "nice": false, "zero": false}, "axis": {"orient": "left", "offset": -141, "values": [20, 40, 60, 80, 100], "domain": false, "title": "Percentage (%)", "titleY": 35, "labelFontSize": 8, "titleFontSize": 9, "tickSize": 3}},
                "y2": {"field": "p2"}
              }
            },
            {
              "data": {"name": "Gi"},
              "mark": {"type": "errorbar", "ticks": true},
              "encoding": {
                "x": {"field": "time", "type": "quantitative", "title": "Time (min)"},
                "y": {"field": "lo", "type": "quantitative", "title": "Percentage (%)"},
                "y2": {"field": "hi"},
                "color": {"field": "measure", "type": "nominal", "scale": {"domain": ["Stress", "Dissipation"], "range": ["#1f40d0", "#111111"]}}
              }
            },
            {
              "data": {"name": "Gi"},
              "mark": {"type": "line", "strokeWidth": 1.3},
              "encoding": {
                "x": {"field": "time", "type": "quantitative", "title": "Time (min)"},
                "y": {"field": "pct", "type": "quantitative", "title": "Percentage (%)"},
                "color": {"field": "measure", "type": "nominal"}
              }
            },
            {
              "data": {"name": "Gi"},
              "mark": {"type": "point", "filled": true, "size": 30, "opacity": 1},
              "encoding": {
                "x": {"field": "time", "type": "quantitative", "title": "Time (min)"},
                "y": {"field": "pct", "type": "quantitative", "title": "Percentage (%)"},
                "color": {"field": "measure", "type": "nominal", "legend": {"title": null, "orient": "none", "legendX": 165, "legendY": 44, "labelFontSize": 9, "symbolSize": 40, "rowPadding": 1, "symbolOpacity": 1}},
                "shape": {"field": "measure", "type": "nominal", "scale": {"domain": ["Stress", "Dissipation"], "range": ["circle", "square"]}, "legend": {"title": null, "orient": "none", "legendX": 165, "legendY": 44, "labelFontSize": 9, "symbolSize": 40, "rowPadding": 1, "symbolOpacity": 1}}
              }
            }
          ]
        }
      ],
      "resolve": {"scale": {"x": "independent", "y": "independent", "color": "independent", "shape": "independent"}, "axis": {"x": "independent", "y": "independent"}, "legend": {"color": "independent", "shape": "independent"}}
    }
  ]
}
